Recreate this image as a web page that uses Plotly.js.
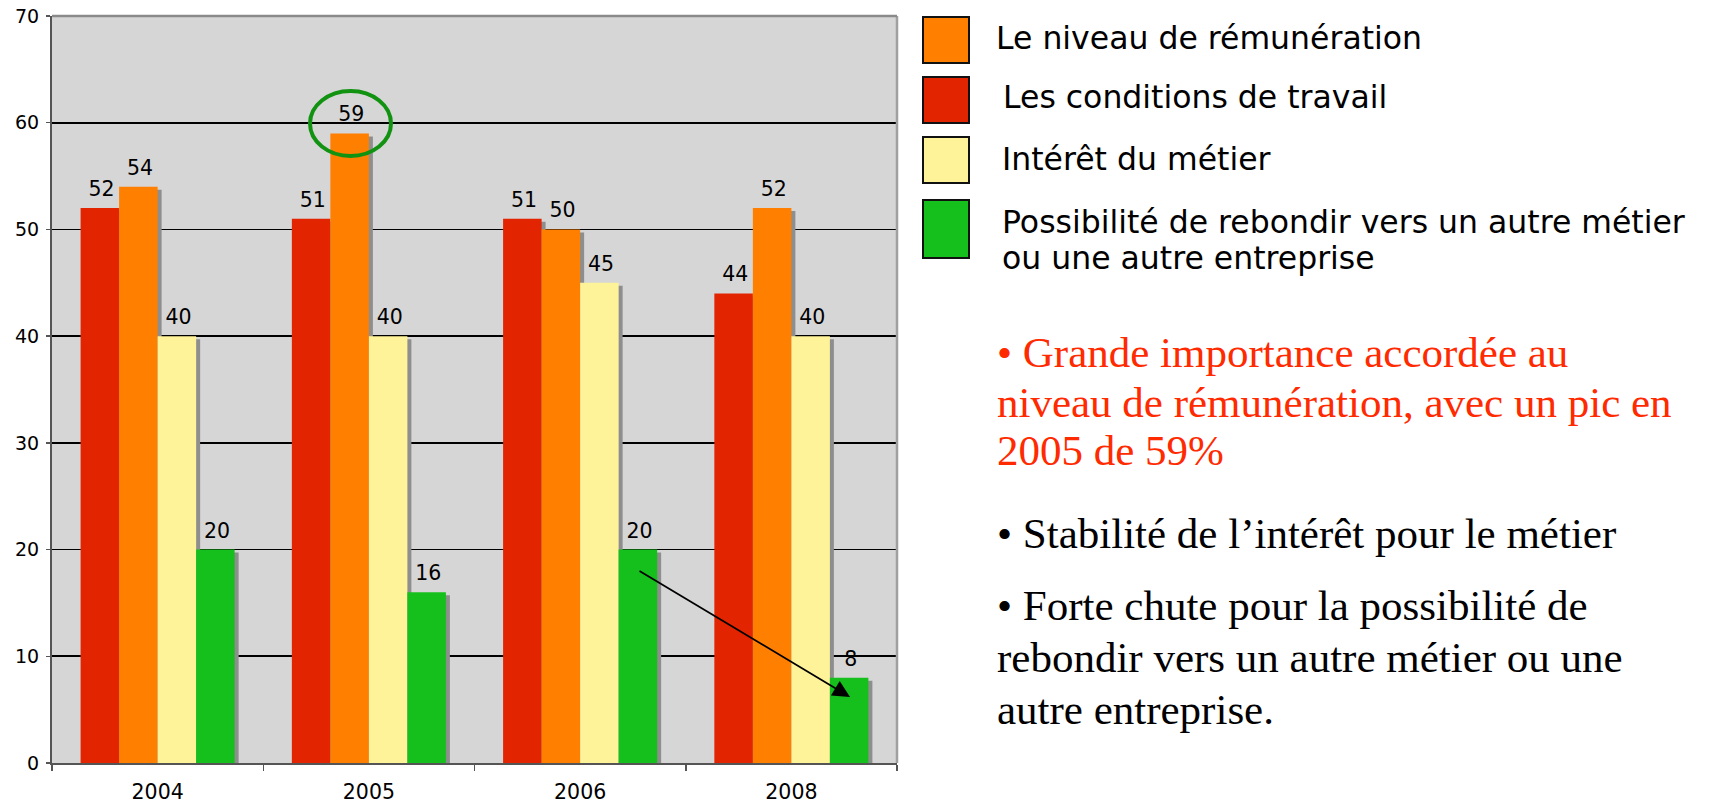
<!DOCTYPE html>
<html><head><meta charset="utf-8">
<script src="https://cdn.plot.ly/plotly-3.0.1.min.js"></script>
<style>html,body{margin:0;padding:0;background:#fff;}#chart{width:1709px;height:806px;}</style>
</head><body><div id="chart"></div>
<script>
// ---- data ----
const years = ['2004', '2005', '2006', '2008'];
const conditions = [52, 51, 51, 44];      // Les conditions de travail (red)
const remuneration = [54, 59, 50, 52];    // Le niveau de rémunération (orange)
const interet = [40, 40, 45, 40];         // Intérêt du métier (yellow)
const rebondir = [20, 16, 20, 8];         // Possibilité de rebondir ... (green)
const yTicks = [0, 10, 20, 30, 40, 50, 60, 70];

const legendLabels = [
  ['Le niveau de rémunération'],
  ['Les conditions de travail'],
  ['Intérêt du métier'],
  ['Possibilité de rebondir vers un autre métier', 'ou une autre entreprise']
];
const redNotes = ['• Grande importance accordée au', 'niveau de rémunération, avec un pic en', '2005 de 59%'];
const blackNotes = ['• Stabilité de l’intérêt pour le métier', '• Forte chute pour la possibilité de', 'rebondir vers un autre métier ou une', 'autre entreprise.'];

// ---- styling ----
const W = 1709, H = 806;
const M = {l: 52, r: 812, t: 16, b: 43};
const PW = W - M.l - M.r, PH = H - M.t - M.b;
const px = v => (v - M.l) / PW;
const py = v => (H - M.b - v) / PH;

const RED = '#e22400', ORANGE = '#ff7f00', YELLOW = '#fff39a', GREEN = '#16c01c';
const SHADOW = '#8e8e8e';
const barW = 0.1823;
const offsets = [-2 * barW, -barW, 0, barW];
const series = [conditions, remuneration, interet, rebondir];
const colors = [RED, ORANGE, YELLOW, GREEN];
const shX = 4 / (PW / 4);        // 4px shadow shift in category units
const shY = 3 / (PH / 70);       // 3px shadow drop in value units
const lift = 4 / (PH / 70);      // extra gap between bar top and its label

const traces = [];
series.forEach((vals, i) => {
  traces.push({
    type: 'bar', x: years, y: vals.map(v => v - shY),
    offset: offsets[i] + shX, width: barW,
    marker: {color: SHADOW, line: {width: 0}},
    showlegend: false, hoverinfo: 'skip'
  });
});
series.forEach((vals, i) => {
  traces.push({
    type: 'bar', x: years, y: vals,
    offset: offsets[i], width: barW,
    marker: {color: colors[i], line: {width: 0}},
    showlegend: false, hoverinfo: 'skip'
  });
});
// value labels (transparent carrier bars slightly taller than the real bars)
series.forEach((vals, i) => {
  traces.push({
    type: 'bar', x: years, y: vals.map(v => v + lift),
    offset: offsets[i] + 0.008, width: barW,
    marker: {color: 'rgba(0,0,0,0)', line: {width: 0}},
    text: vals.map(String), textposition: 'outside', cliponaxis: false,
    textfont: {family: 'DejaVu Sans, Verdana, sans-serif', size: 20.5, color: '#000'},
    showlegend: false, hoverinfo: 'skip'
  });
});

const shapes = [];
const annotations = [];

// plot frame right & top
shapes.push({type: 'line', xref: 'paper', yref: 'paper', x0: 1, x1: 1, y0: 0, y1: 1, line: {color: '#a0a0a0', width: 2.5}});
shapes.push({type: 'line', xref: 'paper', yref: 'paper', x0: 0, x1: 1, y0: 1, y1: 1, line: {color: '#8a8a8a', width: 2.5}});

// custom legend
const legColors = [ORANGE, RED, YELLOW, GREEN];
const legBoxes = [[17, 63], [77, 123], [137, 183], [200, 258]];
const legTextX = [994, 1001, 1000, 1000];
const legTextY = [[38], [97], [159], [222, 258]];
legColors.forEach((c, i) => {
  shapes.push({type: 'rect', xref: 'paper', yref: 'paper',
    x0: px(923), x1: px(969), y0: py(legBoxes[i][1]), y1: py(legBoxes[i][0]),
    fillcolor: c, line: {color: '#111', width: 2}});
  legendLabels[i].forEach((t, j) => {
    annotations.push({xref: 'paper', yref: 'paper', x: px(legTextX[i]), y: py(legTextY[i][j]),
      xanchor: 'left', yanchor: 'middle', showarrow: false, text: t,
      font: {family: 'DejaVu Sans, Verdana, sans-serif', size: 31.5, color: '#000'}});
  });
});

// right side notes
const redY = [353, 402, 450];
redNotes.forEach((t, i) => {
  annotations.push({xref: 'paper', yref: 'paper', x: px(995), y: py(redY[i]),
    xanchor: 'left', yanchor: 'middle', showarrow: false, text: t,
    font: {family: 'Liberation Serif, Times New Roman, serif', size: 43, color: '#ff2a00'}});
});
const blackY = [533, 605, 657, 709];
blackNotes.forEach((t, i) => {
  annotations.push({xref: 'paper', yref: 'paper', x: px(995), y: py(blackY[i]),
    xanchor: 'left', yanchor: 'middle', showarrow: false, text: t,
    font: {family: 'Liberation Serif, Times New Roman, serif', size: 43, color: '#000'}});
});

// green ellipse around the 2005 peak
shapes.push({type: 'circle', xref: 'paper', yref: 'paper',
  x0: px(310), x1: px(391), y0: py(156), y1: py(91),
  line: {color: '#119311', width: 4}});

// arrow from 2006 green to 2008 green
annotations.push({xref: 'paper', yref: 'paper', x: px(850), y: py(697),
  ax: 638 - 850, ay: 570 - 697, text: '', showarrow: true,
  arrowhead: 2, arrowsize: 1.9, arrowwidth: 1.8, arrowcolor: '#000', standoff: 0});

const layout = {
  width: W, height: H,
  margin: M,
  paper_bgcolor: '#ffffff', plot_bgcolor: '#d6d6d6',
  barmode: 'overlay', showlegend: false,
  font: {family: 'DejaVu Sans, Verdana, sans-serif', color: '#000'},
  xaxis: {
    type: 'category', categoryorder: 'array', categoryarray: years,
    showgrid: false, showline: true, linecolor: '#555', linewidth: 1.5,
    ticks: 'outside', tickson: 'boundaries', ticklen: 6, tickcolor: '#555', tickwidth: 1.5,
    ticklabelstandoff: 10,
    tickfont: {size: 20.5, color: '#000'}, fixedrange: true
  },
  yaxis: {
    range: [0, 70], tickvals: yTicks, showgrid: true, gridcolor: '#000', gridwidth: 1.6,
    showline: true, linecolor: '#555', linewidth: 2,
    ticks: 'outside', ticklen: 4, tickcolor: '#555', tickwidth: 1.5,
    ticklabelstandoff: 3,
    tickfont: {size: 19, color: '#000'}, zeroline: false, fixedrange: true
  },
  shapes: shapes,
  annotations: annotations
};

Plotly.newPlot('chart', traces, layout, {displayModeBar: false, staticPlot: true});
</script>
</body></html>
